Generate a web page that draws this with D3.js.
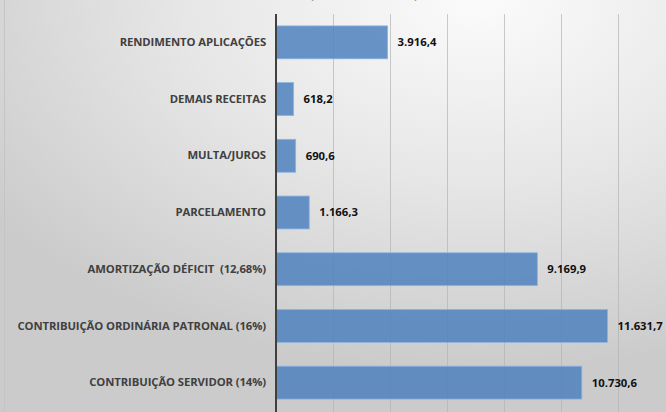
<!DOCTYPE html>
<html>
<head>
<meta charset="utf-8">
<script src="https://cdn.jsdelivr.net/npm/d3@7"></script>
<style>
  html, body { margin: 0; padding: 0; background: #e6e6e6; }
  svg { display: block; }
</style>
</head>
<body>
<div id="chart"></div>
<script>
// dados (R$ mil)
const categories = [
  "RENDIMENTO APLICAÇÕES",
  "DEMAIS RECEITAS",
  "MULTA/JUROS",
  "PARCELAMENTO",
  "AMORTIZAÇÃO DÉFICIT  (12,68%)",
  "CONTRIBUIÇÃO ORDINÁRIA PATRONAL (16%)",
  "CONTRIBUIÇÃO SERVIDOR (14%)"
];
const values = [3916.4, 618.2, 690.6, 1166.3, 9169.9, 11631.7, 10730.6];
const xTicks = [0, 2000, 4000, 6000, 8000, 10000, 12000];
const title = "(Em Milhares de R$)";

const width = 666, height = 412;
const margin = { top: 14, right: 48, bottom: 1, left: 276 };

const fmt = d3.formatLocale({ decimal: ",", thousands: ".", grouping: [3], currency: ["R$", ""] }).format(",.1f");

const svg = d3.select("#chart").append("svg")
  .attr("width", width)
  .attr("height", height)
  .attr("viewBox", `0 0 ${width} ${height}`);

// fundo com gradiente
const defs = svg.append("defs");
const grad = defs.append("radialGradient")
  .attr("id", "bg")
  .attr("cx", "72%").attr("cy", "0%").attr("r", "90%")
  .attr("gradientUnits", "objectBoundingBox");
grad.append("stop").attr("offset", "0%").attr("stop-color", "#fbfbfb");
grad.append("stop").attr("offset", "50%").attr("stop-color", "#e6e6e6");
grad.append("stop").attr("offset", "100%").attr("stop-color", "#cbcbcb");

svg.append("rect")
  .attr("width", width).attr("height", height)
  .attr("fill", "url(#bg)");

svg.append("line")
  .attr("x1", 4.5).attr("x2", 4.5)
  .attr("y1", 0).attr("y2", height)
  .attr("stroke", "#c4c4c4");

// titulo (cortado no topo, como na imagem)
svg.append("text")
  .attr("x", 364).attr("y", -1.5)
  .attr("text-anchor", "middle")
  .attr("font-family", "Open Sans, sans-serif")
  .attr("font-weight", "bold")
  .attr("font-size", 11)
  .attr("fill", "#404040")
  .text(title);

const x = d3.scaleLinear()
  .domain([0, 12000])
  .range([margin.left, width - margin.right]);

const y = d3.scaleBand()
  .domain(categories)
  .range([margin.top, height - margin.bottom])
  .paddingInner(0.42)
  .paddingOuter(0.21);

// grade
svg.append("g")
  .attr("transform", `translate(0,${margin.top})`)
  .call(d3.axisBottom(x).tickValues(xTicks.slice(1)).tickSize(height - margin.top).tickFormat(""))
  .call(g => g.select(".domain").remove())
  .call(g => g.selectAll(".tick line").attr("stroke", "#b4b4b4").attr("stroke-opacity", 0.7));

// barras
svg.append("g")
  .selectAll("rect")
  .data(values)
  .join("rect")
  .attr("x", x(0))
  .attr("y", (d, i) => y(categories[i]))
  .attr("width", d => x(d) - x(0))
  .attr("height", y.bandwidth())
  .attr("fill", "#4f81bd")
  .attr("fill-opacity", 0.85)
  .attr("stroke", "#8db3e2")
  .attr("stroke-width", 0.8);

// eixo vertical
svg.append("g")
  .attr("transform", `translate(${x(0)},0)`)
  .call(d3.axisLeft(y).tickSize(0).tickPadding(10))
  .call(g => g.select(".domain").attr("stroke", "#404040").attr("stroke-width", 2)
    .attr("d", `M0,${margin.top}V${height}`))
  .call(g => g.selectAll(".tick text")
    .attr("font-family", "Open Sans, sans-serif")
    .attr("font-weight", "bold")
    .attr("font-size", 11.3)
    .attr("letter-spacing", "-0.1px")
    .style("white-space", "pre")
    .attr("fill", "#404040"));

// rotulos de valor
svg.append("g")
  .selectAll("text")
  .data(values)
  .join("text")
  .attr("x", d => x(d) + 10)
  .attr("y", (d, i) => y(categories[i]) + y.bandwidth() / 2)
  .attr("dy", "0.35em")
  .attr("font-family", "Open Sans, sans-serif")
  .attr("font-weight", "bold")
  .attr("font-size", 11.3)
  .attr("fill", "#111")
  .text(d => fmt(d));
</script>
</body>
</html>
